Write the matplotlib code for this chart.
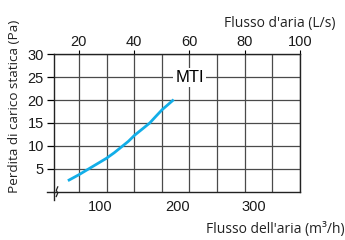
import matplotlib
matplotlib.use('Agg')
import matplotlib.pyplot as plt
import numpy as np

# curve (air flow in m3/h, static pressure loss in Pa)
flow_m3h = [57.7, 72.0, 85.0, 97.0, 108.0, 118.0, 128.4, 136.5, 144.4, 154.0, 164.3, 172.0, 180.4, 188.0, 195.5]
loss_pa = [2.4, 3.7, 5.0, 6.2, 7.3, 8.5, 9.9, 11.0, 12.3, 13.6, 15.0, 16.4, 17.9, 19.0, 20.1]

y_ticks = [5, 10, 15, 20, 25, 30]
top_ticks = [20, 40, 60, 80, 100]      # L/s
bottom_ticks = [100, 200, 300]         # m3/h

tickfont = ['Liberation Sans', 'DejaVu Sans']
plt.rcParams['font.family'] = ['Open Sans', 'DejaVu Sans']

fig = plt.figure(figsize=(3.45, 2.4), dpi=100)
ax = fig.add_axes([0.1574, 0.2013, 0.8696 - 0.1574, 0.7738 - 0.2013])

flow_ls = np.array(flow_m3h) / 3.6
ax.plot(flow_ls, loss_pa, color='#12aee8', lw=2.0, solid_capstyle='butt',
        solid_joinstyle='round', zorder=3)

ax.set_xlim(40 / 3.6, 100)
ax.set_ylim(0, 30)

# grid every 10 L/s and 5 Pa
ax.set_yticks(y_ticks)
ax.set_xticks(top_ticks, [str(t) for t in top_ticks])
ax.set_xticks(np.arange(30, 100, 20), minor=True)
ax.grid(True, which='both', color='#4a4a4a', lw=0.9)
ax.tick_params(axis='x', which='major', bottom=False, labelbottom=False,
               top=True, labeltop=True, length=3, pad=1, labelsize=10.5)
ax.tick_params(axis='x', which='minor', bottom=False, top=False)
ax.tick_params(axis='y', length=5, pad=2.5, labelsize=10.5, width=0.9)
for lab in ax.get_xticklabels() + ax.get_yticklabels():
    lab.set_family(tickfont)
    lab.set_color('#1a1a1a')

for s in ['left', 'bottom', 'right', 'top']:
    ax.spines[s].set_color('#222222')
    ax.spines[s].set_linewidth(1.0)

# bottom axis in m3/h
sec = ax.secondary_xaxis('bottom', functions=(lambda x: x * 3.6, lambda x: x / 3.6))
sec.set_xticks(bottom_ticks)
sec.tick_params(length=0, pad=6, labelsize=10.5)
sec.spines['bottom'].set_visible(False)
for lab in sec.get_xticklabels():
    lab.set_family(tickfont)
    lab.set_color('#1a1a1a')

# axis extensions and break mark
ax.plot([0, 0], [0, -0.06], transform=ax.transAxes, color='#222222', lw=1.0, clip_on=False)
ax.plot([-0.03, 0], [0, 0], transform=ax.transAxes, color='#222222', lw=1.0, clip_on=False)
ax.plot([0.008, 0.014, 0.008, 0.014], [-0.035, -0.01, 0.01, 0.035],
        transform=ax.transAxes, color='#222222', lw=0.9, clip_on=False)

ax.text(60, 25, 'MTI', ha='center', va='center', fontsize=12, family=tickfont,
        bbox=dict(facecolor='white', edgecolor='none', pad=1.5), zorder=4)

fig.text(0.973, 0.9, "Flusso d'aria (L/s)", ha='right', va='center', fontsize=10, color='#222222')
fig.text(1.0, 0.045, "Flusso dell'aria (m\u00b3/h)", ha='right', va='center', fontsize=10, color='#222222')
fig.text(0.043, 0.555, 'Perdita di carico statica (Pa)', rotation=90, ha='center', va='center',
         fontsize=9.7, color='#222222')

fig.savefig('out.png', dpi=100)
